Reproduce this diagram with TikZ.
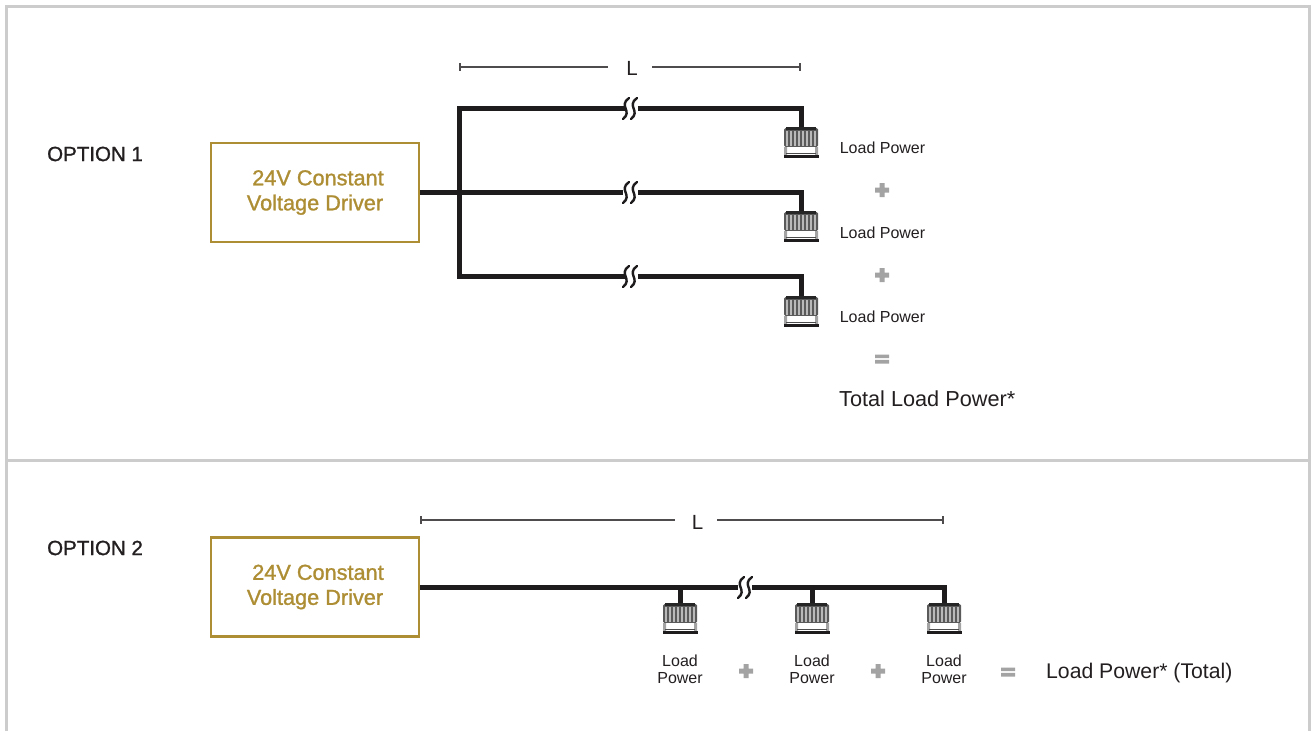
\documentclass[tikz,border=0pt]{standalone}
\usepackage{fontspec}
\setmainfont{Liberation Sans}
\newfontfamily\medfont[FakeBold=1.2]{Liberation Sans}
\definecolor{framegray}{HTML}{CCCCCC}
\definecolor{gold}{HTML}{AE8E34}
\definecolor{wirek}{HTML}{1F1C1D}
\definecolor{signgray}{HTML}{A3A3A3}
\definecolor{fin}{HTML}{5A5A5A}
\definecolor{txt}{HTML}{231F20}
\tikzset{
  framel/.style={draw=framegray,line width=3pt},
  driverbox/.style={draw=gold,line width=2.2pt,minimum width=208pt,minimum height=99pt,inner sep=0pt,text=gold,font=\fontsize{21.7}{25}\selectfont\medfont,align=center},
  wire/.style={draw=wirek,line width=5pt},
  dimline/.style={draw=txt!80,line width=1.2pt},
  dimlabel/.style={text=txt,font=\fontsize{20.5}{24}\selectfont,inner sep=0pt},
  optlabel/.style={text=txt,font=\fontsize{20.5}{22}\selectfont\medfont,inner sep=0pt,anchor=west},
  loadlabel/.style={text=txt,font=\fontsize{16}{17}\selectfont,inner sep=0pt,align=center},
  totallabel/.style={text=txt,font=\fontsize{21.7}{24}\selectfont,inner sep=0pt,anchor=west},
  totaltwo/.style={totallabel,font=\fontsize{21.2}{24}\selectfont},
  lamp/.pic={
    \fill[fin,rounded corners=1.5pt] (-17,0) rectangle (17,19);
    \fill[black!85] (-15,-1) rectangle (15,1.5);
    \foreach \i in {-14,-10,-6,-2,2,6,10,14}
      \fill[white!45!gray] (\i-0.7,3) rectangle ++(1.4,15);
    \fill[white] (-14,19) rectangle (14,27);
    \fill[signgray] (-17,19) rectangle (-14,27) (14,19) rectangle (17,27);
    \draw[black!70,line width=0.8pt] (-15,25) -- (15,25);
    \fill[wirek] (-17.5,27) rectangle (17.5,29.5);
  },
  squig/.pic={
    \draw[wirek,line width=2.4pt,line cap=round] (3,-11) .. controls (-8,-3) and (7,2) .. (-3,10);
  },
  plussign/.pic={
    \fill[signgray] (-7,-2.5) rectangle (7,2.5) (-2.5,-7) rectangle (2.5,7);
  },
  eqsign/.pic={
    \fill[signgray] (-7,-4.5) rectangle (7,-0.8) (-7,0.8) rectangle (7,4.5);
  }
}
\begin{document}
\begin{tikzpicture}[x=1pt,y=-1pt]
\useasboundingbox (0,0) rectangle (1312,731);
\fill[white] (0,0) rectangle (1312,731);
% frame
\coordinate (fa) at (6,731); \coordinate (fb) at (6,6); \coordinate (fc) at (1309,6);
\coordinate (fd) at (1309,731); \coordinate (fe) at (6,460); \coordinate (ff) at (1309,460);
\draw[framel] (fa) -- (fb) -- (fc) -- (fd);
\draw[framel] (fe) -- (ff);
% labels
\node[optlabel] (opt1) at (47,154) {OPTION 1};
\node[optlabel] (opt2) at (47,548) {OPTION 2};
% drivers
\node[driverbox] (d1) at (315,192.5) {\hspace*{6pt}24V Constant\\Voltage Driver};
\node[driverbox] (d2) at (315,587) {\hspace*{6pt}24V Constant\\Voltage Driver};
% option 1 wiring
\coordinate (j0) at (459,192);
\coordinate (jt) at (459,108);
\coordinate (jb) at (459,276);
\coordinate (a1) at (801,129);
\coordinate (a2) at (801,213);
\coordinate (a3) at (801,298);
\coordinate (c1) at (801,108);
\coordinate (c2) at (801,192);
\coordinate (c3) at (801,276);
\coordinate (b1l) at (623,108); \coordinate (b1r) at (638,108);
\coordinate (b2l) at (623,192); \coordinate (b2r) at (638,192);
\coordinate (b3l) at (623,276); \coordinate (b3r) at (638,276);
\draw[wire] (d1.east |- j0) -- (b2l);
\draw[wire] (b2r) -- (c2) -- (a2);
\draw[wire,line cap=rect] (b1l) -- (jt) -- (jb) -- (b3l);
\draw[wire] (b1r) -- (c1) -- (a1);
\draw[wire] (b3r) -- (c3) -- (a3);
\foreach \y in {108,192,276} {
  \pic at (626,\y+1) {squig};
  \pic at (634,\y+1) {squig};
}
\pic at (801,128) {lamp};
\pic at (801,212) {lamp};
\pic at (801,297) {lamp};
\node[loadlabel] (l1) at (882.5,148) {Load Power};
\node[loadlabel] (l2) at (882.5,233) {Load Power};
\node[loadlabel] (l3) at (882.5,317) {Load Power};
\pic at (882,190) {plussign};
\pic at (882,275) {plussign};
\pic at (882,359) {eqsign};
\node[totallabel] (t1) at (839,399) {Total Load Power*};
% dimension 1
\coordinate (da) at (460,67); \coordinate (db) at (800,67);
\node[dimlabel] (dl1) at (632,68) {L};
\draw[dimline] (da) -- (608,67) (652,67) -- (db);
\draw[dimline] (460,63) -- (460,71) (800,63) -- (800,71);
% option 2 wiring
\coordinate (e0) at (420,587);
\coordinate (e1l) at (738,587); \coordinate (e1r) at (752,587);
\coordinate (e2) at (944,587);
\coordinate (f1) at (680,587); \coordinate (f2) at (812,587);
\coordinate (g1) at (680,605); \coordinate (g2) at (812,605); \coordinate (g3) at (944,605);
\draw[wire] (e0) -- (e1l);
\draw[wire] (e1r) -- (e2) -- (g3);
\draw[wire] (f1) -- (g1);
\draw[wire] (f2) -- (g2);
\pic at (741,588) {squig};
\pic at (749,588) {squig};
\pic at (680,604) {lamp};
\pic at (812,604) {lamp};
\pic at (944,604) {lamp};
\node[loadlabel] (m1) at (680,669.5) {Load\\Power};
\node[loadlabel] (m2) at (812,669.5) {Load\\Power};
\node[loadlabel] (m3) at (944,669.5) {Load\\Power};
\pic at (746,671) {plussign};
\pic at (878,671) {plussign};
\pic at (1008,672) {eqsign};
\node[totaltwo] (t2) at (1046,673.5) {Load Power* (Total)};
% dimension 2
\node[dimlabel] (dl2) at (697.5,522) {L};
\draw[dimline] (421,520) -- (675,520) (717,520) -- (943,520);
\draw[dimline] (421,516) -- (421,524) (943,516) -- (943,524);
\end{tikzpicture}
\end{document}
